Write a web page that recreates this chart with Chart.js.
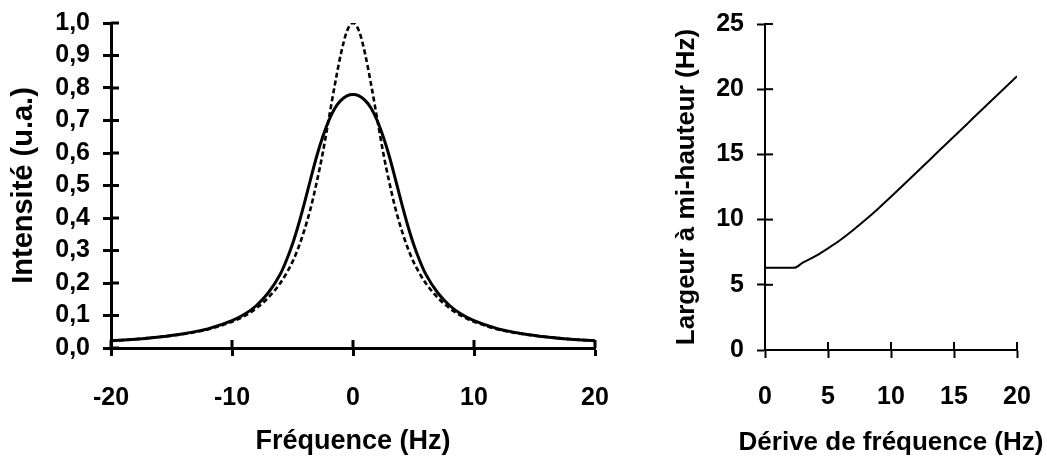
<!DOCTYPE html>
<html>
<head>
<meta charset="utf-8">
<script src="https://cdn.jsdelivr.net/npm/chart.js@4"></script>
<style>
  html, body { margin: 0; padding: 0; background: #fff; }
  .panel { position: absolute; top: 0; height: 458px; }
  #left { left: 0; width: 620px; }
  #right { left: 620px; width: 427px; }
</style>
</head>
<body>
<div class="panel" id="left"><canvas id="spectreChart"></canvas></div>
<div class="panel" id="right"><canvas id="largeurChart"></canvas></div>
<script>
// ===== DATA =====
// left panel: line shape without drift (dashed) / with drift (solid)
const freq = [-20, -18, -16, -14, -12, -10, -9, -8, -7, -6, -5.5, -5, -4.5, -4, -3.5, -3, -2.5, -2, -1.5, -1, -0.5, 0,
              0.5, 1, 1.5, 2, 2.5, 3, 3.5, 4, 4.5, 5, 5.5, 6, 7, 8, 9, 10, 12, 14, 16, 18, 20];
const intensiteSansDerive = [0.022, 0.027, 0.034, 0.043, 0.057, 0.081, 0.098, 0.122, 0.155, 0.2, 0.23, 0.265, 0.31, 0.365, 0.43, 0.51, 0.6, 0.705, 0.81, 0.905, 0.975, 1.0,
                             0.975, 0.905, 0.81, 0.705, 0.6, 0.51, 0.43, 0.365, 0.31, 0.265, 0.23, 0.2, 0.155, 0.122, 0.098, 0.081, 0.057, 0.043, 0.034, 0.027, 0.022];
const intensiteAvecDerive = [0.022, 0.027, 0.034, 0.044, 0.059, 0.084, 0.103, 0.13, 0.17, 0.228, 0.27, 0.32, 0.38, 0.448, 0.52, 0.59, 0.65, 0.70, 0.738, 0.762, 0.776, 0.78,
                             0.776, 0.762, 0.738, 0.70, 0.65, 0.59, 0.52, 0.448, 0.38, 0.32, 0.27, 0.228, 0.17, 0.13, 0.103, 0.084, 0.059, 0.044, 0.034, 0.027, 0.022];

// right panel: FWHM vs frequency drift
const derive = [0, 1, 2.3, 3, 4, 5, 6, 7, 8, 9, 10, 11, 12, 13, 14, 15, 16, 17, 18, 19, 20];
const largeur = [6.3, 6.3, 6.3, 6.7, 7.2, 7.8, 8.45, 9.2, 10.0, 10.85, 11.75, 12.67, 13.6, 14.52, 15.45, 16.38, 17.3, 18.23, 19.15, 20.08, 21.0];

const leftX = [-20, 20], leftY = [0, 1];
const rightX = [0, 20], rightY = [0, 25];

const FONT = "'Liberation Sans', Arial, sans-serif";
const toPoints = (xs, ys) => xs.map((x, i) => ({ x, y: ys[i] }));

// ===== ticks crossing the axis line + free x title =====
const axisExtras = {
  id: "axisExtras",
  afterDraw(chart, args, opts) {
    const { ctx, chartArea, scales } = chart;
    const len = opts.len || 8;
    ctx.save();
    ctx.strokeStyle = "#000";
    ctx.lineWidth = opts.width || 2;
    scales.x.ticks.forEach(t => {
      const px = scales.x.getPixelForValue(t.value);
      ctx.beginPath();
      ctx.moveTo(px, chartArea.bottom);
      ctx.lineTo(px, chartArea.bottom - len);
      ctx.stroke();
    });
    scales.y.ticks.forEach(t => {
      const py = scales.y.getPixelForValue(t.value);
      ctx.beginPath();
      ctx.moveTo(chartArea.left, py);
      ctx.lineTo(chartArea.left + len, py);
      ctx.stroke();
    });
    if (opts.xTitle) {
      // drawn here so that it is not squeezed to the axis width
      ctx.fillStyle = "#000";
      ctx.font = "bold " + opts.xTitleSize + "px " + FONT;
      ctx.textAlign = "center";
      ctx.textBaseline = "middle";
      ctx.fillText(opts.xTitle, (scales.x.left + scales.x.right) / 2, opts.xTitleY);
    }
    ctx.restore();
  }
};

function axis(opts) {
  return {
    type: "linear",
    min: opts.range[0],
    max: opts.range[1],
    afterFit: s => {
      // fixed plot box: no extra label padding
      s.paddingLeft = 0; s.paddingRight = 0; s.paddingTop = 0; s.paddingBottom = 0;
      if (s.isHorizontal()) s.height = opts.size; else s.width = opts.size;
    },
    border: { color: "#000", width: opts.lw },
    grid: { drawOnChartArea: false, drawTicks: true, tickLength: 8, tickColor: "#000", tickWidth: opts.lw },
    ticks: {
      stepSize: opts.step,
      padding: opts.pad,
      color: "#000",
      font: { family: FONT, size: 25, weight: "bold" },
      callback: opts.fmt || (v => v),
      maxRotation: 0,
      autoSkip: false
    },
    title: {
      display: !!opts.title,
      text: opts.title,
      color: "#000",
      font: { family: FONT, size: opts.titleSize || 26, weight: "bold" },
      padding: opts.titlePad
    }
  };
}

// ===== LEFT CHART =====
new Chart(document.getElementById("spectreChart"), {
  type: "line",
  data: {
    datasets: [
      {
        data: toPoints(freq, intensiteSansDerive),
        borderColor: "#000",
        borderWidth: 2.6,
        borderDash: [5, 3],
        pointRadius: 0,
        cubicInterpolationMode: "monotone"
      },
      {
        data: toPoints(freq, intensiteAvecDerive),
        borderColor: "#000",
        borderWidth: 3,
        pointRadius: 0,
        cubicInterpolationMode: "monotone"
      }
    ]
  },
  options: {
    responsive: true,
    maintainAspectRatio: false,
    animation: false,
    layout: { padding: { top: 23, right: 25, left: 0, bottom: 0 } },
    plugins: {
      legend: { display: false },
      tooltip: { enabled: false },
      axisExtras: { len: 8, width: 3, xTitle: "Fréquence (Hz)", xTitleSize: 27, xTitleY: 442 }
    },
    scales: {
      x: axis({ range: leftX, step: 10, lw: 3, pad: 27, size: 110 }),
      y: axis({ range: leftY, step: 0.1, lw: 3, pad: 13, size: 111, title: "Intensité (u.a.)", titleSize: 29,
                titlePad: { top: 7, bottom: 0 }, fmt: v => v.toFixed(1).replace(".", ",") })
    }
  },
  plugins: [axisExtras]
});

// ===== RIGHT CHART =====
new Chart(document.getElementById("largeurChart"), {
  type: "line",
  data: {
    datasets: [{
      data: toPoints(derive, largeur),
      borderColor: "#000",
      borderWidth: 2,
      pointRadius: 0,
      cubicInterpolationMode: "monotone"
    }]
  },
  options: {
    responsive: true,
    maintainAspectRatio: false,
    animation: false,
    layout: { padding: { top: 24, right: 30, left: 0, bottom: 0 } },
    plugins: {
      legend: { display: false },
      tooltip: { enabled: false },
      axisExtras: { len: 8, width: 2, xTitle: "Dérive de fréquence (Hz)", xTitleSize: 26, xTitleY: 443 }
    },
    scales: {
      x: axis({ range: rightX, step: 5, lw: 2, pad: 24, size: 108 }),
      y: axis({ range: rightY, step: 5, lw: 2, pad: 13, size: 145, title: "Largeur à mi-hauteur (Hz)", titleSize: 26,
                titlePad: { top: 51, bottom: 0 } })
    }
  },
  plugins: [axisExtras]
});
</script>
</body>
</html>
